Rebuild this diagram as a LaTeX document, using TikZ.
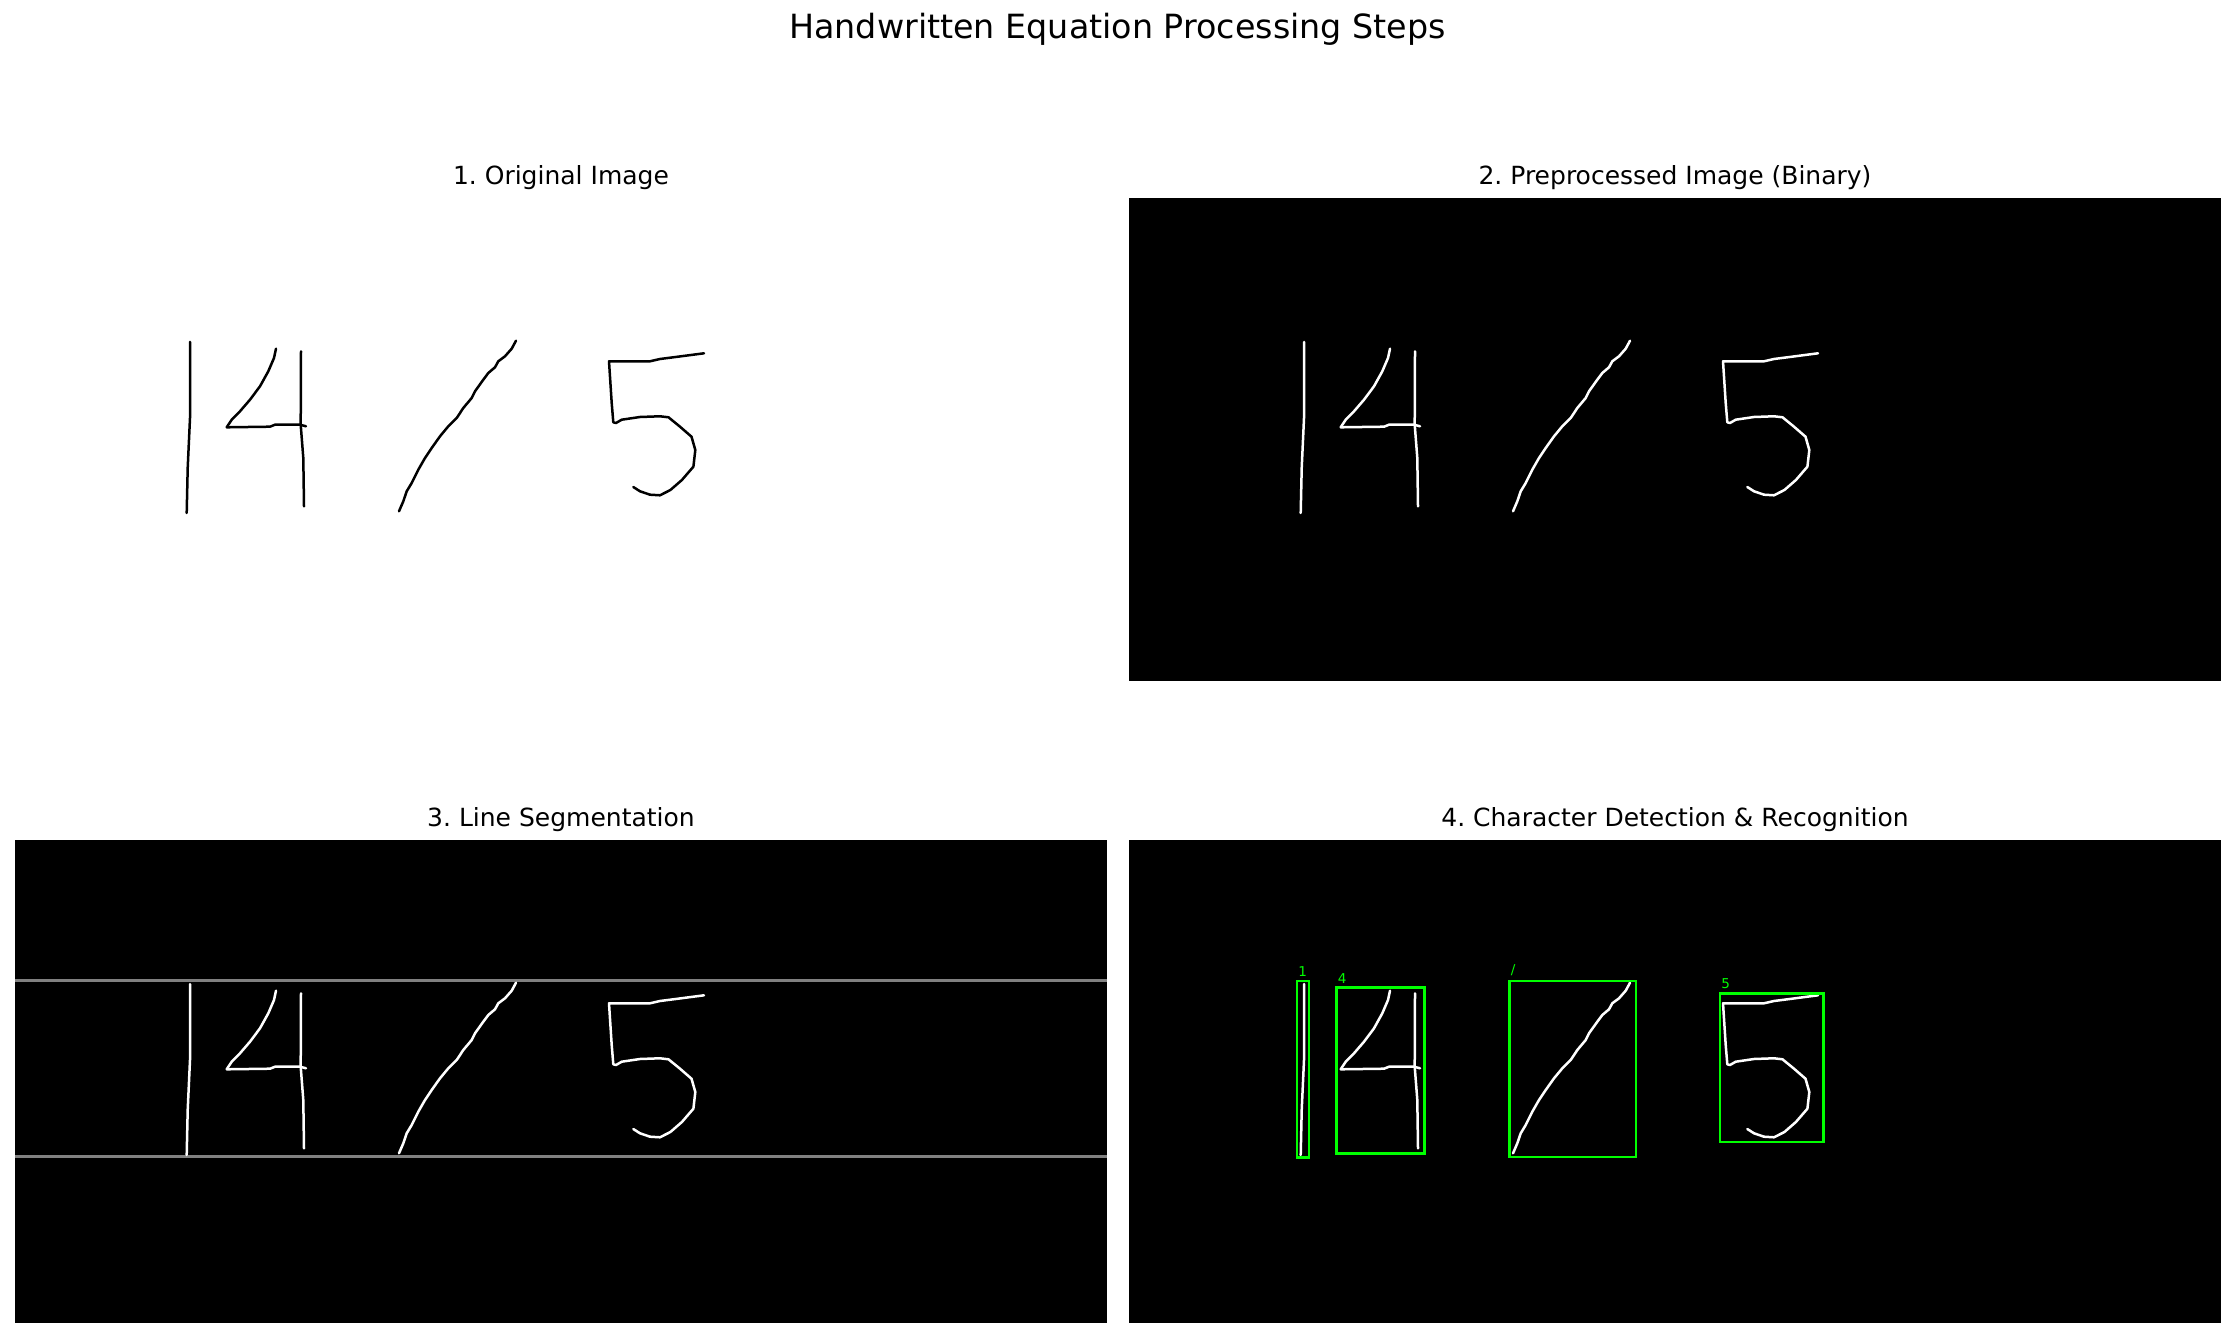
\documentclass[tikz,border=0pt]{standalone}
\usepackage{fontspec}
\setmainfont{DejaVu Sans}
\frenchspacing
\usetikzlibrary{positioning}
\definecolor{segline}{RGB}{128,128,128}
\definecolor{boxgreen}{RGB}{0,255,0}
\tikzset{
  panel/.style ={minimum width=524.16pt,minimum height=231.84pt,inner sep=0pt,outer sep=0pt,anchor=north west},
  ptitle/.style={font=\fontsize{12}{14}\selectfont},
  ink/.style   ={line width=1.2pt,line join=round,line cap=round},
  segl/.style  ={draw=segline,line width=1.2pt},
  bbox/.style  ={draw=boxgreen,line width=1.15pt},
  blab/.style  ={text=boxgreen,font=\fontsize{6.5}{7}\selectfont,inner sep=0pt,anchor=south west},
}
% the handwritten "14 / 5", in pixel coordinates of one panel
\newcommand\eqstrokes[1]{%
  \draw[ink,#1] (175,144) -- (175,220) -- (172.7,270) -- (171.7,315);
  \draw[ink,#1] (261,150.7) -- (259,160) -- (253.3,173.3) -- (245,188.3) -- (235,201.7)
    -- (225,213.3) -- (216.7,221.7) -- (211.7,229.3) -- (255,228.7) -- (260,226.7)
    -- (285,226.7) -- (291,228.3);
  \draw[ink,#1] (286,153.3) -- (285.7,226.7) -- (288.3,260) -- (289,308.3);
  \draw[ink,#1] (501,142.7) -- (496.7,150.7) -- (490,158.3) -- (483.3,163.3) -- (480,169.3)
    -- (473.3,175) -- (468.3,181.7) -- (460,193.3) -- (456.7,200) -- (448.3,210)
    -- (441.7,220) -- (433.3,228.3) -- (425,238.3) -- (416.7,250) -- (410,260)
    -- (403.3,271.7) -- (396.7,285) -- (391.7,293.3) -- (388.3,303.3) -- (384,313.3);
  \draw[ink,#1] (689,155.3) -- (663,158.7) -- (645,161) -- (635,163.3) -- (594,163.3)
    -- (596.7,205) -- (598.3,224.3) -- (601,225) -- (606.7,221.7) -- (625,219)
    -- (645,218.3) -- (653.5,219.3) -- (665,228.7) -- (676.5,238.7) -- (680.3,252)
    -- (678.4,268.7) -- (666.9,282) -- (655.4,292) -- (645,297.3) -- (635,296.7)
    -- (625,293.3) -- (618.3,289);
}

\begin{document}
\begin{tikzpicture}[x=0.48pt,y=-0.48pt]
  \useasboundingbox (0,0) rectangle (2235,1338);
  \node[font=\fontsize{16}{19}\selectfont] (title) at (1117.5,29) {Handwritten Equation Processing Steps};

  % panels
  \node[panel] (p1) at (15,198) {};
  \node[panel,fill=black] (p2) at (1129,198) {};
  \node[panel,fill=black] (p3) at (15,840) {};
  \node[panel,fill=black] (p4) at (1129,840) {};

  \node[ptitle] (t1) at (561,178) {1. Original Image};
  \node[ptitle] (t2) at (1675,178) {2. Preprocessed Image (Binary)};
  \node[ptitle] (t3) at (561,820) {3. Line Segmentation};
  \node[ptitle] (t4) at (1675,820) {4. Character Detection \& Recognition};

  % 1 and 2
  \begin{scope}[shift={(15,198)}]
    \eqstrokes{black}
  \end{scope}
  \begin{scope}[shift={(1129,198)}]
    \eqstrokes{white}
  \end{scope}

  % 3: line bounds
  \begin{scope}[shift={(15,840)}]
    \draw[segl] (0,140.7) -- (1092,140.7);
    \draw[segl] (0,316.7) -- (1092,316.7);
    \eqstrokes{white}
  \end{scope}

  % 4: boxes
  \begin{scope}[shift={(1129,840)}]
    \eqstrokes{white}
    \draw[bbox] (168.2,141) rectangle (179.7,317.3);
    \draw[bbox] (207.6,147.3) rectangle (295.6,313.3);
    \draw[bbox] (380.6,140.7) rectangle (506.9,316.7);
    \draw[bbox] (591,153.3) rectangle (694.4,301.7);
    \node[blab] (l1) at (169,137) {1};
    \node[blab] (l2) at (208.5,143.5) {4};
    \node[blab] (l3) at (381.5,136.5) {/};
    \node[blab] (l4) at (592,149.5) {5};
  \end{scope}
\end{tikzpicture}
\end{document}
